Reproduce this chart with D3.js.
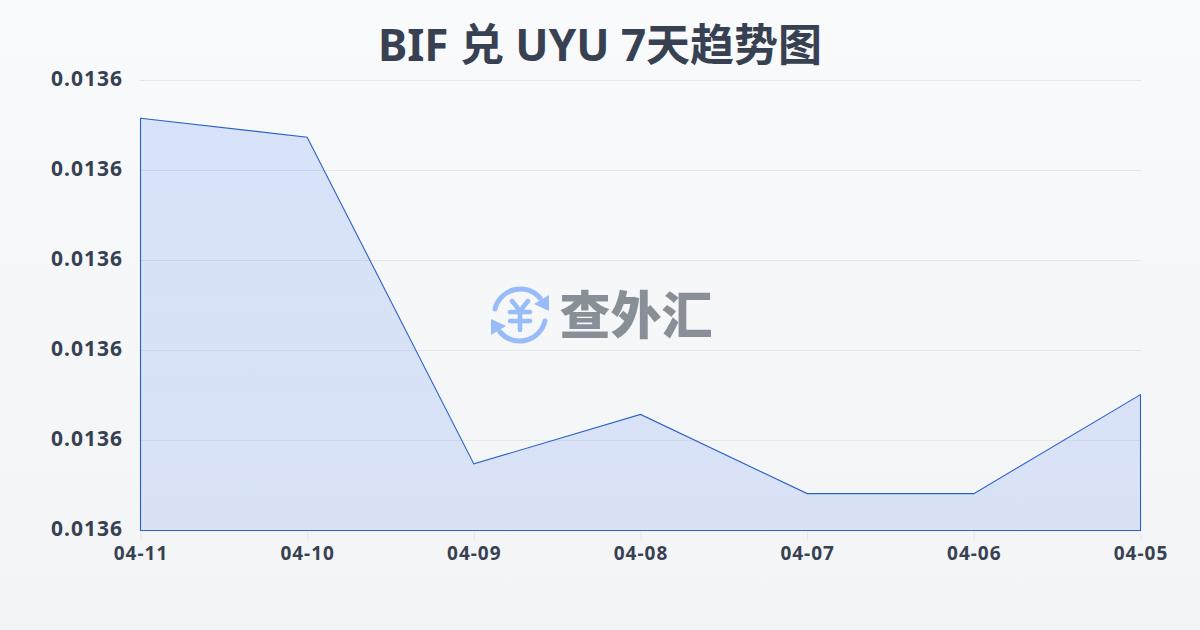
<!DOCTYPE html>
<html><head><meta charset="utf-8">
<script src="https://cdnjs.cloudflare.com/ajax/libs/d3/7.8.5/d3.min.js"></script>
<style>html,body{margin:0;padding:0;background:#f5f7fa}svg{display:block}</style></head>
<body><svg id="c" width="1200" height="630"></svg>
<script>
const titleText = "BIF 兑 UYU 7天趋势图";
const watermarkText = "查外汇";
const dates = ["04-11","04-10","04-09","04-08","04-07","04-06","04-05"];
const rates = [0.0136058,0.0136037,0.0135674,0.0135729,0.0135641,0.0135641,0.0135751];
const yTicks = [0.01356,0.01357,0.01358,0.01359,0.01360,0.01361];

const svg = d3.select("#c");
const defs = svg.append("defs");
const bg = defs.append("linearGradient").attr("id","bg").attr("x1",0).attr("y1",0).attr("x2",0).attr("y2",1);
bg.append("stop").attr("offset",0).attr("stop-color","#f8fafc");
bg.append("stop").attr("offset",1).attr("stop-color","#f3f4f6");
svg.append("rect").attr("width",1200).attr("height",630).attr("fill","url(#bg)");

const fillGrad = defs.append("linearGradient").attr("id","fillGrad").attr("x1",0).attr("y1",0).attr("x2",0).attr("y2",1);
fillGrad.append("stop").attr("offset",0).attr("stop-color","#2563eb").attr("stop-opacity",0.15);
fillGrad.append("stop").attr("offset",1).attr("stop-color","#2563eb").attr("stop-opacity",0.13);

const x = d3.scalePoint().domain(dates).range([140.5,1140.5]);
const y = d3.scaleLinear().domain([0.01356,0.01361]).range([530.5,80.5]);

const grid = svg.append("g");
grid.selectAll("line").data(yTicks.slice(1)).join("line")
  .attr("x1",140).attr("x2",1141).attr("y1",d=>y(d)).attr("y2",d=>y(d))
  .attr("stroke","#e5e7eb").attr("stroke-width",1);

const area = d3.area().x((d,i)=>x(dates[i])).y0(y(yTicks[0])).y1(d=>y(d));
svg.append("path").datum(rates).attr("d",area)
  .attr("fill","url(#fillGrad)").attr("stroke","#2b62c9").attr("stroke-width",1.1);

const labelFont = '"Noto Sans",sans-serif';
const xAxis = d3.axisBottom(x).tickSize(10).tickPadding(6);
const gx = svg.append("g").attr("transform","translate(0,530.5)").call(xAxis);
gx.select(".domain").remove();
gx.selectAll(".tick line").attr("stroke","#e5e7eb").attr("y1",1);
gx.selectAll(".tick text").attr("fill","#374151").attr("font-family",labelFont).attr("font-size",19).attr("font-weight",700).attr("letter-spacing",1).attr("dy","0.71em");

const yAxis = d3.axisLeft(y).tickValues(yTicks).tickFormat(d=>d.toFixed(4)).tickSize(0).tickPadding(17);
const gy = svg.append("g").attr("transform","translate(140,0)").call(yAxis);
gy.select(".domain").remove();
gy.selectAll(".tick text").attr("fill","#374151").attr("font-family",labelFont).attr("font-size",21).attr("font-weight",700).attr("letter-spacing",1).attr("dy","0.26em");

svg.append("text").attr("x",600).attr("y",61).attr("text-anchor","middle")
  .attr("font-size",44).attr("font-weight",700).attr("fill","#374151")
  .attr("font-family",'"Noto Sans","Noto Sans CJK SC",sans-serif').text(titleText);

// watermark
const wm = svg.append("g").attr("opacity",0.5);
const ic = wm.append("g").attr("transform","translate(520,315)").attr("fill","none").attr("stroke","#3b82f6").attr("stroke-linecap","round").attr("stroke-width",5);
ic.append("path").attr("d","M-25,-6 A26,26 0 0 1 20,-17");
ic.append("path").attr("d","M25,6 A26,26 0 0 1 -20,17");
ic.append("path").attr("d","M29,-20 L29,-4 L14,-11 Z").attr("fill","#3b82f6").attr("stroke","none");
ic.append("path").attr("d","M-29,20 L-29,4 L-14,11 Z").attr("fill","#3b82f6").attr("stroke","none");
ic.append("path").attr("d","M-8,-14 L0,-4 L8,-14 M-10,-3 H10 M-10,6 H10 M0,-4 V15").attr("stroke-width",4.5);
wm.append("text").attr("x",636).attr("y",334).attr("text-anchor","middle")
  .attr("font-size",51).attr("font-weight",900).attr("fill","#1f2937")
  .attr("font-family",'"Noto Sans CJK SC",sans-serif').text(watermarkText);
</script></body></html>
